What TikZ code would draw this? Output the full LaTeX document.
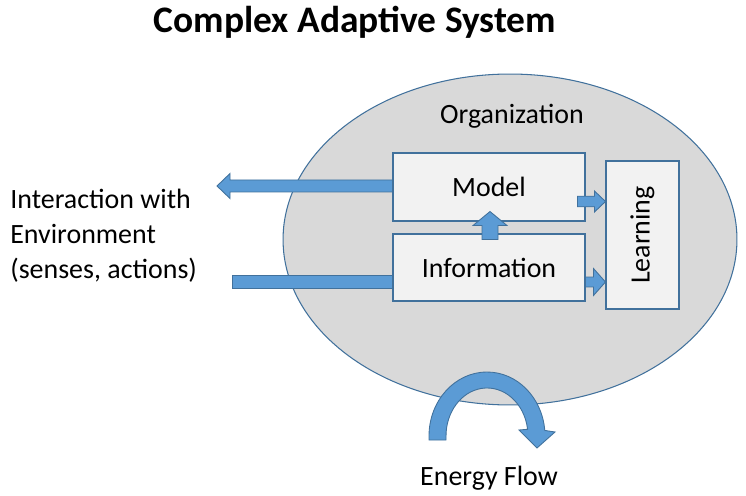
\documentclass[tikz,border=0pt]{standalone}
\usepackage{fontspec}
\setmainfont{Carlito}
\usetikzlibrary{shapes.geometric, calc}
\definecolor{orgfill}{HTML}{D9D9D9}
\definecolor{boxfill}{HTML}{F2F2F2}
\definecolor{arrowfill}{HTML}{5B9BD5}
\definecolor{edgeblue}{HTML}{41719C}

% block arrow: from, to, shaft half width, head half width, head length
\newcommand{\blockarrow}[5]{%
  \coordinate (ba-h) at ($(#2)!#5!(#1)$);
  \draw[barrow] ($(#1)!#3!90:(#2)$) -- ($(ba-h)!#3!-90:(#1)$) -- ($(ba-h)!#4!-90:(#1)$)
    -- (#2) -- ($(ba-h)!#4!90:(#1)$) -- ($(ba-h)!#3!90:(#1)$) -- ($(#1)!#3!-90:(#2)$) -- cycle;}

\begin{document}
\begin{tikzpicture}[x=0.02cm, y=-0.02cm,
    txt/.style={font=\fontsize{15.9}{19.8}\selectfont, inner sep=0pt},
    box/.style={draw=edgeblue, fill=boxfill, line width=0.6pt, txt},
    barrow/.style={draw=edgeblue, fill=arrowfill, line width=0.5pt, line join=miter},
]
\useasboundingbox (0,0) rectangle (746,496);

\node[font=\fontsize{21.3}{25}\selectfont\bfseries] (title) at (355,22) {Complex Adaptive System};

\node[ellipse, draw=edgeblue, fill=orgfill, line width=0.6pt, minimum width=9.08cm, minimum height=6.62cm, inner sep=0pt] (org) at (510,239.5) {};
\node[txt] (orglabel) at (512,116) {Organization};

\node[box, minimum width=3.84cm, minimum height=1.36cm] (model) at (489,187) {Model};
\node[box, minimum width=3.84cm, minimum height=1.34cm] (info) at (489,267.5) {Information};
\node[box, minimum width=2.96cm, minimum height=1.46cm, rotate=90] (learning) at (642.5,235) {Learning};

\node[txt, anchor=west, align=left] (env) at (10,236) {Interaction with\\Environment\\(senses, actions)};
\node[txt] (energy) at (489,478) {Energy Flow};

% arrows
\coordinate (m2l-s) at ($(model.east)+(-8,14.5)$);
\coordinate (m2l-e) at (m2l-s -| learning.north);
\blockarrow{m2l-s}{m2l-e}{0.106cm}{0.21cm}{0.22cm}

\coordinate (i2l-s) at ($(info.east)+(0,14.5)$);
\coordinate (i2l-e) at (i2l-s -| learning.north);
\blockarrow{i2l-s}{i2l-e}{0.1cm}{0.27cm}{0.24cm}

\coordinate (i2m-s) at ($(info.north)+(1,6)$);
\coordinate (i2m-e) at ($(model.south)+(1,-10)$);
\blockarrow{i2m-s}{i2m-e}{0.16cm}{0.34cm}{0.28cm}

\coordinate (env-out) at (217,186);
\coordinate (m2e-s) at (model.west |- env-out);
\blockarrow{m2e-s}{env-out}{0.12cm}{0.25cm}{0.26cm}

\coordinate (env-in) at (232,281.5);
\draw[barrow] ($(env-in)+(0,-6.5)$) rectangle ($(info.west |- env-in)+(0,6.5)$);

% energy flow
\draw[barrow] (429,440) -- (429,436) arc[start angle=180, end angle=5, x radius=1.16cm, y radius=1.28cm]
  -- (555,432) -- (537,448) -- (519,430) -- (527.6,429.3)
  arc[start angle=8, end angle=180, x radius=0.82cm, y radius=0.96cm] -- (446,440) -- cycle;

\end{tikzpicture}
\end{document}
